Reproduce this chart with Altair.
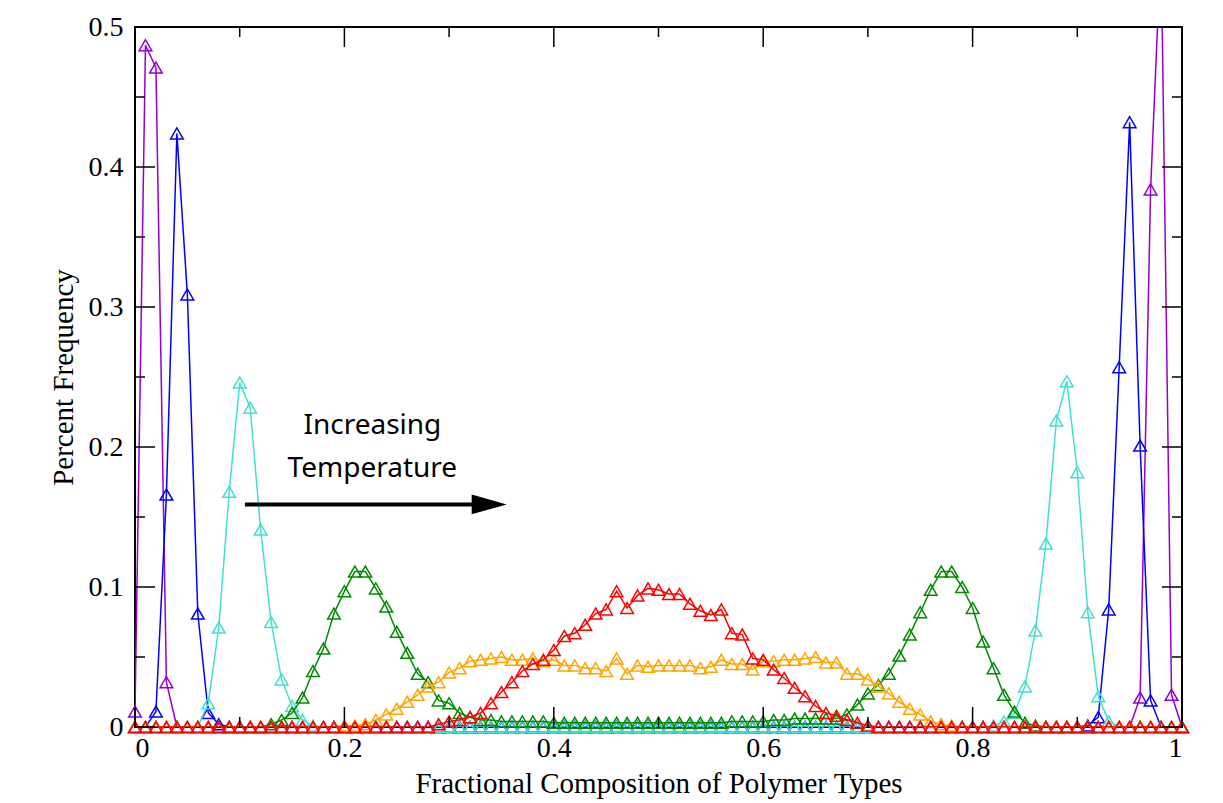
import altair as alt
import pandas as pd

# ---------------- data ----------------
x_grid = [round(i / 100, 2) for i in range(101)]

purple = [0.011, 0.487, 0.471, 0.032, 0, 0, 0, 0, 0, 0,
          0, 0, 0, 0, 0, 0, 0, 0, 0, 0,
          0, 0, 0, 0, 0, 0, 0, 0, 0, 0,
          0, 0, 0, 0, 0, 0, 0, 0, 0, 0,
          0, 0, 0, 0, 0, 0, 0, 0, 0, 0,
          0, 0, 0, 0, 0, 0, 0, 0, 0, 0,
          0, 0, 0, 0, 0, 0, 0, 0, 0, 0,
          0, 0, 0, 0, 0, 0, 0, 0, 0, 0,
          0, 0, 0, 0, 0, 0, 0, 0, 0, 0,
          0, 0, 0, 0, 0, 0, 0.021, 0.384, 0.560, 0.023,
          0]

blue = [0, 0, 0.011, 0.166, 0.424, 0.309, 0.081, 0.010, 0.002, 0,
        0, 0, 0, 0, 0, 0, 0, 0, 0, 0,
        0, 0, 0, 0, 0, 0, 0, 0, 0, 0,
        0, 0, 0, 0, 0, 0, 0, 0, 0, 0,
        0, 0, 0, 0, 0, 0, 0, 0, 0, 0,
        0, 0, 0, 0, 0, 0, 0, 0, 0, 0,
        0, 0, 0, 0, 0, 0, 0, 0, 0, 0,
        0, 0, 0, 0, 0, 0, 0, 0, 0, 0,
        0, 0, 0, 0, 0, 0, 0, 0, 0, 0,
        0, 0.001, 0.007, 0.084, 0.257, 0.432, 0.201, 0.019, 0, 0,
        0]

turquoise = [0, 0, 0, 0, 0, 0, 0, 0.017, 0.071, 0.168,
             0.246, 0.228, 0.141, 0.075, 0.034, 0.015, 0.005, 0.001, 0, 0,
             0, 0, 0, 0, 0, 0, 0, 0, 0, 0,
             0, 0, 0, 0, 0, 0, 0, 0, 0, 0,
             0, 0, 0, 0, 0, 0, 0, 0, 0, 0,
             0, 0, 0, 0, 0, 0, 0, 0, 0, 0,
             0, 0, 0, 0, 0, 0, 0, 0, 0, 0,
             0, 0, 0, 0, 0, 0, 0, 0, 0, 0,
             0, 0, 0.001, 0.004, 0.010, 0.029, 0.069, 0.131, 0.219, 0.247,
             0.182, 0.082, 0.022, 0.004, 0, 0, 0, 0, 0, 0,
             0]

green = [0, 0, 0, 0, 0, 0, 0, 0, 0, 0,
         0, 0, 0, 0.002, 0.005, 0.010, 0.021, 0.040, 0.056, 0.081,
         0.097, 0.111, 0.111, 0.099, 0.086, 0.068, 0.053, 0.038, 0.032, 0.019,
         0.017, 0.010, 0.007, 0.005, 0.005, 0.004, 0.004, 0.004, 0.004, 0.004,
         0.003, 0.003, 0.003, 0.003, 0.003, 0.003, 0.003, 0.003, 0.003, 0.003,
         0.003, 0.003, 0.003, 0.003, 0.003, 0.003, 0.003, 0.004, 0.004, 0.004,
         0.004, 0.005, 0.005, 0.006, 0.006, 0.006, 0.006, 0.006, 0.009, 0.016,
         0.024, 0.030, 0.038, 0.051, 0.066, 0.082, 0.098, 0.111, 0.111, 0.100,
         0.085, 0.061, 0.042, 0.023, 0.011, 0.003, 0.001, 0, 0, 0,
         0, 0, 0, 0, 0, 0, 0, 0, 0, 0,
         0]

orange = [0, 0, 0, 0, 0, 0, 0, 0, 0, 0,
          0, 0, 0, 0, 0, 0, 0, 0, 0, 0,
          0.001, 0.001, 0.002, 0.005, 0.009, 0.013, 0.018, 0.023, 0.029, 0.032,
          0.039, 0.042, 0.047, 0.048, 0.049, 0.050, 0.048, 0.048, 0.049, 0.047,
          0.048, 0.044, 0.044, 0.042, 0.042, 0.040, 0.049, 0.038, 0.044, 0.043,
          0.044, 0.044, 0.044, 0.044, 0.042, 0.043, 0.048, 0.045, 0.045, 0.041,
          0.047, 0.047, 0.048, 0.048, 0.049, 0.050, 0.046, 0.046, 0.038, 0.038,
          0.034, 0.029, 0.024, 0.018, 0.013, 0.009, 0.004, 0.002, 0.001, 0,
          0, 0, 0, 0, 0, 0, 0, 0, 0, 0,
          0, 0, 0, 0, 0, 0, 0, 0, 0, 0,
          0]

red = [0, 0, 0, 0, 0, 0, 0, 0, 0, 0,
       0, 0, 0, 0, 0, 0, 0, 0, 0, 0,
       0, 0, 0, 0, 0, 0, 0, 0, 0, 0.002,
       0.004, 0.005, 0.007, 0.010, 0.017, 0.025, 0.032, 0.040, 0.045, 0.048,
       0.055, 0.065, 0.067, 0.073, 0.081, 0.084, 0.097, 0.085, 0.094, 0.099,
       0.098, 0.095, 0.095, 0.088, 0.083, 0.080, 0.084, 0.067, 0.066, 0.049,
       0.048, 0.041, 0.035, 0.028, 0.022, 0.015, 0.010, 0.008, 0.005, 0.003,
       0.001, 0, 0, 0, 0, 0, 0, 0, 0, 0,
       0, 0, 0, 0, 0, 0, 0, 0, 0, 0,
       0, 0, 0, 0, 0, 0, 0, 0, 0, 0,
       0]

series_names = ["purple", "blue", "turquoise", "green", "orange", "red"]
series_values = [purple, blue, turquoise, green, orange, red]
series_colors = ["#9400D3", "#0000FF", "#40E0D0", "#008B00", "#FFA500", "#FF0000"]

x_major = [0, 0.2, 0.4, 0.6, 0.8, 1.0]
x_minor = [0.1, 0.3, 0.5, 0.7, 0.9]
y_major = [0, 0.1, 0.2, 0.3, 0.4, 0.5]
y_minor = [0.05, 0.15, 0.25, 0.35, 0.45]

annot_text = ["Increasing", "Temperature"]
annot_x = [0.2267, 0.2267]
annot_y = [0.2093, 0.1788]
arrow_x = [0.105]
arrow_x2 = [0.33]
arrow_y = [0.159]
arrow_head_x = [0.3383]

# ---------------- chart ----------------
W, H = 1047, 700
SERIF = "Liberation Serif"

xscale = alt.Scale(domain=[0, 1], nice=False, zero=False)
yscale = alt.Scale(domain=[0, 0.5], nice=False, zero=False)

xaxis = alt.Axis(values=x_major, format="~g", ticks=False, tickSize=0, domain=False,
                 grid=False, labelFont=SERIF, labelFontSize=28, labelColor="black",
                 labelPadding=7, title="Fractional Composition of Polymer Types",
                 titleFont=SERIF, titleFontSize=29, titleFontWeight="normal",
                 titleColor="black", titleBaseline="alphabetic", titleY=65)
yaxis = alt.Axis(values=y_major, format="~g", ticks=False, tickSize=0, domain=False,
                 grid=False, labelFont=SERIF, labelFontSize=28, labelColor="black",
                 labelPadding=12, title="Percent Frequency",
                 titleFont=SERIF, titleFontSize=29, titleFontWeight="normal",
                 titleColor="black", titleAngle=-90, titleBaseline="alphabetic",
                 titleAlign="center", titleX=-63, titleY=H / 2)


def X(field):
    return alt.X(f"{field}:Q", scale=xscale, axis=xaxis)


def Y(field):
    return alt.Y(f"{field}:Q", scale=yscale, axis=yaxis)


layers = []
for name, vals, col in zip(series_names, series_values, series_colors):
    d = pd.DataFrame({"x": x_grid, "y": vals})
    c = alt.Chart(d)
    layers.append(c.mark_line(color=col, strokeWidth=1.5, clip=True).encode(x=X("x"), y=Y("y")))
    layers.append(c.mark_point(shape="triangle-up", size=160, filled=False, color=col,
                               strokeWidth=1.5, opacity=1).encode(x=X("x"), y=Y("y")))

# inward ticks on all four sides
def xticks(vals, length):
    d = alt.Chart(pd.DataFrame({"v": vals}))
    bot = d.mark_rule(color="black", strokeWidth=1.5).encode(
        x=X("v"), y=alt.value(H), y2=alt.value(H - length))
    top = d.mark_rule(color="black", strokeWidth=1.5).encode(
        x=X("v"), y=alt.value(0), y2=alt.value(length))
    return [bot, top]


def yticks(vals, length):
    d = alt.Chart(pd.DataFrame({"v": vals}))
    left = d.mark_rule(color="black", strokeWidth=1.5).encode(
        y=Y("v"), x=alt.value(0), x2=alt.value(length))
    right = d.mark_rule(color="black", strokeWidth=1.5).encode(
        y=Y("v"), x=alt.value(W), x2=alt.value(W - length))
    return [left, right]


layers += xticks(x_major, 20) + xticks(x_minor, 10) + yticks(y_major, 20) + yticks(y_minor, 10)

# annotation
txt = alt.Chart(pd.DataFrame({"x": annot_x, "y": annot_y, "t": annot_text})).mark_text(
    font="Noto Sans", fontSize=28, color="black", align="center", baseline="alphabetic"
).encode(x=X("x"), y=Y("y"), text="t:N")

arrow = alt.Chart(pd.DataFrame({"x": arrow_x, "x2": arrow_x2, "y": arrow_y})).mark_rule(
    color="black", strokeWidth=4
).encode(x=X("x"), x2="x2:Q", y=Y("y"))

head = alt.Chart(pd.DataFrame({"x": arrow_head_x, "y": arrow_y})).mark_point(
    shape="M-1,-0.57L1,0L-1,0.57Z", size=1225, filled=True, color="black", opacity=1
).encode(x=X("x"), y=Y("y"))

layers += [txt, arrow, head]

chart = alt.layer(*layers).properties(
    width=W, height=H,
    autosize=alt.AutoSizeParams(type="none"),
    padding={"left": 135, "top": 27, "right": 41, "bottom": 76},
    background="white",
).configure_view(stroke="black", strokeWidth=2)

chart.save("out.html", embed_options={"renderer": "svg", "actions": False})
